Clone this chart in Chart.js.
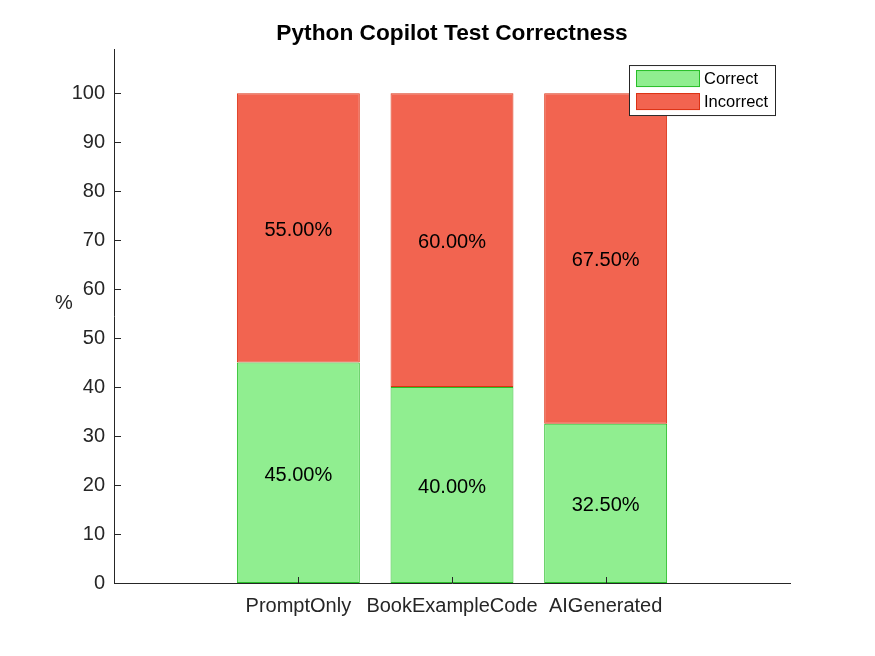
<!DOCTYPE html>
<html>
<head>
<meta charset="utf-8">
<title>Python Copilot Test Correctness</title>
<script src="https://cdn.jsdelivr.net/npm/chart.js@4.4.1/dist/chart.umd.min.js"></script>
<style>
  html, body { margin: 0; padding: 0; background: #fff; }
  #wrap { width: 875px; height: 656px; }
</style>
</head>
<body>
<div id="wrap"><canvas id="canvas"></canvas></div>
<script>
// categories along the bottom
let categories = ['PromptOnly', 'BookExampleCode', 'AIGenerated'];

// percent of tests that were correct / incorrect
let correct   = [45.0, 40.0, 32.5];
let incorrect = [55.0, 60.0, 67.5];

// y tick labels (0..100 by 10)
let yTicks = [0, 10, 20, 30, 40, 50, 60, 70, 80, 90, 100];

// bar positions: categories sit at 1, 2, 3 on a numeric axis
let xPos = categories.map(function(c, i) { return i + 1; });

let FONT = '"Liberation Sans", Arial, Helvetica, sans-serif';
let AXIS = '#262626';

let greenFill = 'rgb(144,238,144)';
let greenEdge = 'rgb(40,190,40)';
let redFill   = 'rgb(242,100,80)';
let redEdge   = 'rgb(220,50,20)';

function toPoints(values) {
  let pts = [];
  for (let i = 0; i < values.length; i++) {
    pts.push({ x: xPos[i], y: values[i] });
  }
  return pts;
}

// percentage text in the middle of each bar segment
let segmentLabels = {
  id: 'segmentLabels',
  afterDatasetsDraw: function(chart) {
    let ctx = chart.ctx;
    ctx.save();
    ctx.font = '20px ' + FONT;
    ctx.fillStyle = '#000';
    ctx.textAlign = 'center';
    ctx.textBaseline = 'middle';
    chart.data.datasets.forEach(function(ds, d) {
      let meta = chart.getDatasetMeta(d);
      meta.data.forEach(function(bar, i) {
        let v = ds.data[i].y;
        let mid = (bar.y + bar.base) / 2;
        ctx.fillText(v.toFixed(2) + '%', bar.x, mid + 2.5);
      });
    });
    ctx.restore();
  }
};

// matlab-ish tick marks pointing into the axes, plus the "%" label
// and a boxed legend in the upper right corner
let axesExtras = {
  id: 'axesExtras',
  afterDraw: function(chart) {
    let ctx = chart.ctx;
    let area = chart.chartArea;
    let xs = chart.scales.x;
    let ys = chart.scales.y;
    ctx.save();

    ctx.strokeStyle = AXIS;
    ctx.lineWidth = 1;
    ctx.beginPath();
    ys.ticks.forEach(function(t) {
      let py = Math.round(ys.getPixelForValue(t.value)) + 0.5;
      ctx.moveTo(area.left, py);
      ctx.lineTo(area.left + 7, py);
    });
    xs.ticks.forEach(function(t) {
      let px = Math.round(xs.getPixelForValue(t.value)) + 0.5;
      ctx.moveTo(px, area.bottom);
      ctx.lineTo(px, area.bottom - 6);
    });
    ctx.stroke();

    // y label, not rotated
    ctx.fillStyle = AXIS;
    ctx.font = '20px ' + FONT;
    ctx.textAlign = 'center';
    ctx.textBaseline = 'middle';
    ctx.fillText('%', 64, (area.top + area.bottom) / 2 - 13);

    // legend box
    let bx = area.right - 161, by = area.top + 16, bw = 147, bh = 51;
    ctx.fillStyle = '#fff';
    ctx.fillRect(bx, by, bw, bh);
    ctx.strokeStyle = AXIS;
    ctx.strokeRect(bx + 0.5, by + 0.5, bw - 1, bh - 1);

    ctx.font = '16.5px ' + FONT;
    ctx.textAlign = 'left';
    chart.data.datasets.forEach(function(ds, d) {
      let sy = by + 5 + d * 23;
      ctx.fillStyle = ds.backgroundColor;
      ctx.fillRect(bx + 7, sy, 64, 17);
      ctx.strokeStyle = ds.borderColor;
      ctx.strokeRect(bx + 7.5, sy + 0.5, 63, 16);
      ctx.fillStyle = '#000';
      ctx.fillText(ds.label, bx + 75, sy + 9.5);
    });

    ctx.restore();
  }
};

let options = {
  type: 'bar',
  data: {
    datasets: [
      {
        label: 'Correct',
        data: toPoints(correct),
        backgroundColor: greenFill,
        borderColor: greenEdge,
        borderWidth: 1,
        borderSkipped: false,
        barPercentage: 0.8,
        categoryPercentage: 1.0
      },
      {
        label: 'Incorrect',
        data: toPoints(incorrect),
        backgroundColor: redFill,
        borderColor: redEdge,
        borderWidth: 1,
        borderSkipped: false,
        barPercentage: 0.8,
        categoryPercentage: 1.0
      }
    ]
  },
  options: {
    responsive: true,
    maintainAspectRatio: false,
    animation: false,
    layout: { padding: { top: 0, right: 85, bottom: 0, left: 0 } },
    plugins: {
      legend: { display: false },
      tooltip: { enabled: false },
      title: {
        display: true,
        text: 'Python Copilot Test Correctness',
        fullSize: false,
        color: '#000',
        font: { family: FONT, size: 22.7, weight: 'bold' },
        padding: { top: 20, bottom: 1.8 }
      }
    },
    scales: {
      x: {
        type: 'linear',
        stacked: true,
        offset: false,
        min: -0.2,
        max: 4.2,
        grid: { display: false, drawTicks: false, offset: false },
        border: { display: true, color: AXIS, width: 1 },
        afterBuildTicks: function(scale) {
          scale.ticks = xPos.map(function(v) { return { value: v }; });
        },
        afterFit: function(scale) { scale.height = 73; },
        ticks: {
          color: AXIS,
          padding: 11,
          maxRotation: 0,
          autoSkip: false,
          font: { family: FONT, size: 20 },
          callback: function(v) { return categories[xPos.indexOf(v)]; }
        }
      },
      y: {
        stacked: true,
        min: 0,
        max: 109,
        grid: { display: false, drawTicks: false },
        border: { display: true, color: AXIS, width: 1 },
        afterBuildTicks: function(scale) {
          scale.ticks = yTicks.map(function(v) { return { value: v }; });
        },
        afterFit: function(scale) { scale.width = 114; },
        ticks: {
          color: AXIS,
          padding: 9,
          font: { family: FONT, size: 20 }
        }
      }
    }
  },
  plugins: [segmentLabels, axesExtras]
};

let chart = new Chart(document.getElementById('canvas'), options);
</script>
</body>
</html>
